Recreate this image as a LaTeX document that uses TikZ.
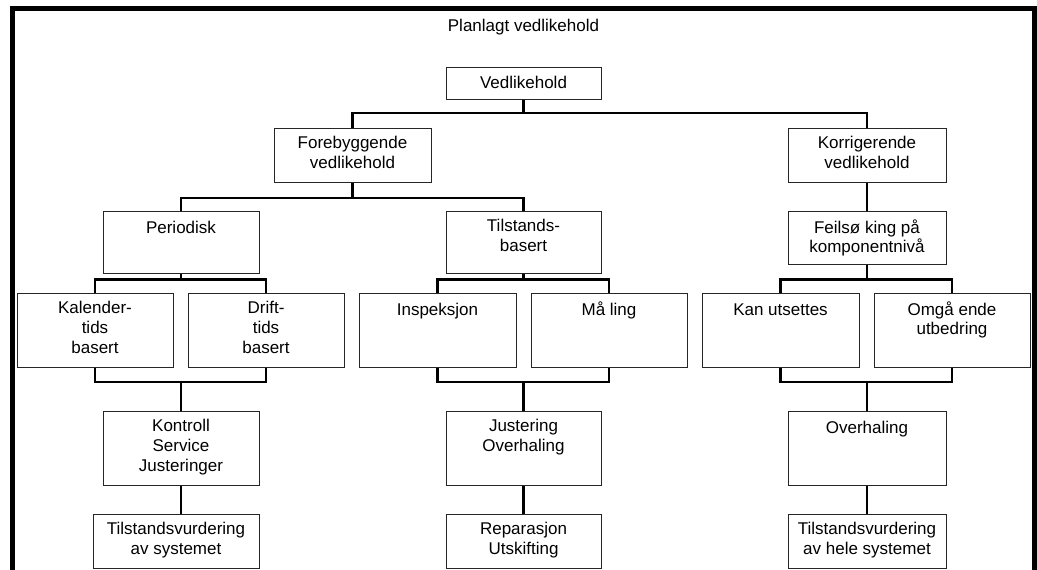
\documentclass[tikz,border=0pt]{standalone}
\usepackage{fontspec}
\setmainfont{Liberation Sans}
\newcommand{\diafont}{\fontsize{17}{19.6}\selectfont}
\begin{document}
\begin{tikzpicture}[x=1pt,y=-1pt,
  box/.style 2 args={draw=black!85, line width=1pt, inner sep=0pt, minimum width=#1pt, minimum height=#2pt},
  txt/.style={font=\diafont, align=center, inner sep=0pt, anchor=north, execute at begin node=\strut},
  conn/.style={draw=black, line width=2.6pt, line join=miter},
  frame/.style={draw=black, line width=5pt, line join=miter}]
\fill[white] (0,0) rectangle (1037,570);
\useasboundingbox (0,0) rectangle (1037,570);
\draw[frame] (12.5,572) -- (12.5,8.5) -- (1034.5,8.5) -- (1034.5,572);

\node[font=\diafont, anchor=base, inner sep=0pt] (title) at (523.5,31.5) {Planlagt vedlikehold};

% boxes
\node[box={155}{32}] (v)    at (523.5,83) {};
\node[box={157}{54}] (fv)   at (352.5,155) {};
\node[box={158}{54}] (kv)   at (867,155) {};
\node[box={156}{62}] (per)  at (181,242) {};
\node[box={155}{62}] (til)  at (523.5,242) {};
\node[box={158}{53}] (feil) at (867,237.5) {};
\node[box={156}{74}] (kal)  at (95,330) {};
\node[box={156}{74}] (dri)  at (266,330) {};
\node[box={157}{74}] (insp) at (437.5,330) {};
\node[box={156}{74}] (mal)  at (609,330) {};
\node[box={157}{74}] (kan)  at (780.5,330) {};
\node[box={156}{74}] (omg)  at (952,330) {};
\node[box={156}{74}] (kon)  at (181,448) {};
\node[box={155}{74}] (jus)  at (523.5,448) {};
\node[box={158}{74}] (ovh)  at (867,448) {};
\node[box={166}{54}] (tv1)  at (176,541) {};
\node[box={155}{54}] (rep)  at (523.5,541) {};
\node[box={158}{54}] (tv2)  at (867,541) {};

% texts
\node[txt] (vT)    at ([yshift=-8.3pt]v.north)    {Vedlikehold};
\node[txt] (fvT)   at ([yshift=-8.8pt]fv.north)   {Forebyggende\\vedlikehold};
\node[txt] (kvT)   at ([yshift=-8.8pt]kv.north)   {Korrigerende\\vedlikehold};
\node[txt] (perT)  at ([yshift=-8.8pt]per.north)  {Periodisk};
\node[txt] (tilT)  at ([yshift=-8.8pt]til.north)  {Tilstands-\\basert};
\node[txt] (feilT) at ([yshift=-8.8pt]feil.north) {Feilsø king på\\komponentnivå};
\node[txt] (kalT)  at ([yshift=-8.8pt]kal.north)  {Kalender-\\tids\\basert};
\node[txt] (driT)  at ([yshift=-8.8pt]dri.north)  {Drift-\\tids\\basert};
\node[txt] (inspT) at ([yshift=-8.8pt]insp.north) {Inspeksjon};
\node[txt] (malT)  at ([yshift=-8.8pt]mal.north)  {Må ling};
\node[txt] (kanT)  at ([yshift=-8.8pt]kan.north)  {Kan utsettes};
\node[txt] (omgT)  at ([yshift=-8.8pt]omg.north)  {Omgå ende\\utbedring};
\node[txt] (konT)  at ([yshift=-8.8pt]kon.north)  {Kontroll\\Service\\Justeringer};
\node[txt] (jusT)  at ([yshift=-8.8pt]jus.north)  {Justering\\Overhaling};
\node[txt] (ovhT)  at ([yshift=-8.8pt]ovh.north)  {Overhaling};
\node[txt] (tv1T)  at ([yshift=-8.8pt]tv1.north)  {Tilstandsvurdering\\av systemet};
\node[txt] (repT)  at ([yshift=-8.8pt]rep.north)  {Reparasjon\\Utskifting};
\node[txt] (tv2T)  at ([yshift=-8.8pt]tv2.north)  {Tilstandsvurdering\\av hele systemet};

% junctions
\coordinate (j0) at (v.south |- 0,113);
\coordinate (j1) at (fv.south |- 0,198);
\coordinate (j2) at (per.south |- 0,279.5);
\coordinate (j3) at (til.south |- 0,279.5);
\coordinate (j4) at (feil.south |- 0,279.5);
\coordinate (j5) at (kon.north |- 0,382);
\coordinate (j6) at (jus.north |- 0,382);
\coordinate (j7) at (ovh.north |- 0,382);

% connectors
\draw[conn] (v.south) -- (j0);
\draw[conn] (fv.north) |- (j0) -| (kv.north);
\draw[conn] (fv.south) -- (j1);
\draw[conn] (per.north) |- (j1) -| (til.north);
\draw[conn] (kv.south) -- (feil.north);
\draw[conn] (per.south) -- (j2);
\draw[conn] (kal.north) |- (j2) -| (dri.north);
\draw[conn] (til.south) -- (j3);
\draw[conn] (insp.north) |- (j3) -| (mal.north);
\draw[conn] (feil.south) -- (j4);
\draw[conn] (kan.north) |- (j4) -| (omg.north);
\draw[conn] (kal.south) |- (j5) -| (dri.south);
\draw[conn] (j5) -- (kon.north);
\draw[conn] (insp.south) |- (j6) -| (mal.south);
\draw[conn] (j6) -- (jus.north);
\draw[conn] (kan.south) |- (j7) -| (omg.south);
\draw[conn] (j7) -- (ovh.north);
\draw[conn] (kon.south) -- (kon.south |- tv1.north);
\draw[conn] (jus.south) -- (rep.north);
\draw[conn] (ovh.south) -- (tv2.north);
\end{tikzpicture}
\end{document}
